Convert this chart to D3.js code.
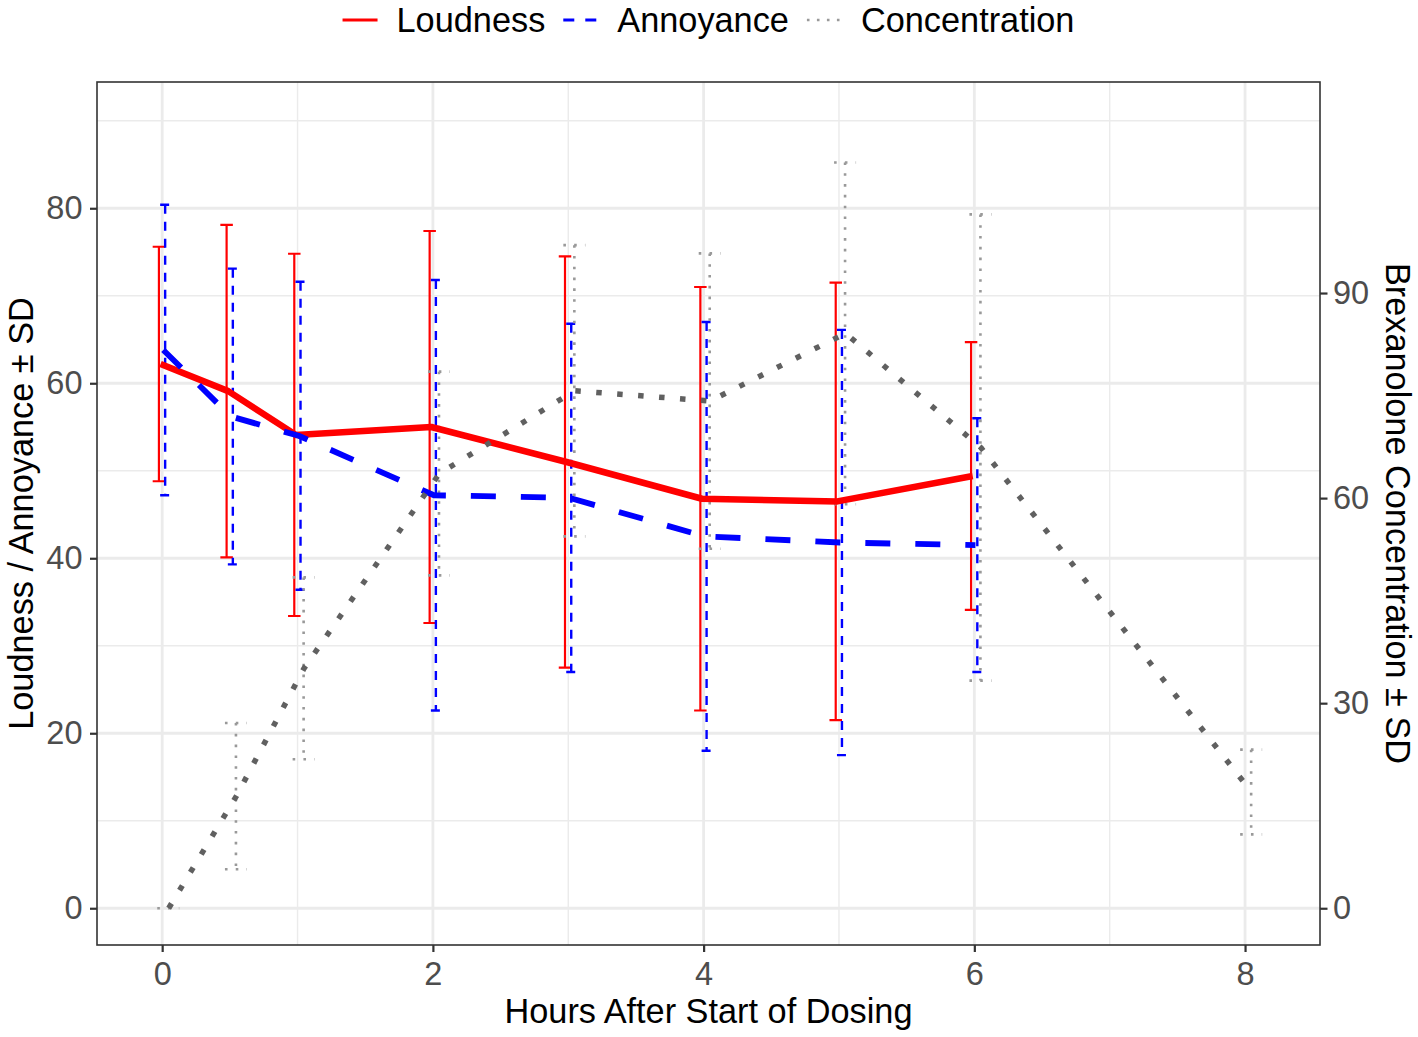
<!DOCTYPE html>
<html>
<head>
<meta charset="utf-8">
<script src="https://cdn.jsdelivr.net/npm/d3@7"></script>
<style>
  body { margin: 0; background: #fff; }
  svg text { font-family: "Liberation Sans", Arial, Helvetica, sans-serif; }
</style>
</head>
<body>
<svg id="chart" width="1418" height="1037"></svg>
<script>
// values (mean and SD per time point)
const hours = [0, 0.5, 1, 2, 3, 4, 5, 6];
const loudnessMean = [62.2, 59.1, 54.1, 55.0, 51.0, 46.8, 46.5, 49.4];
const loudnessSD = [13.4, 19.0, 20.7, 22.4, 23.5, 24.2, 25.0, 15.3];
const annoyanceMean = [63.8, 56.2, 54.0, 47.2, 46.9, 42.5, 41.8, 41.5];
const annoyanceSD = [16.6, 16.9, 17.6, 24.6, 19.9, 24.5, 24.3, 14.5];

const concHours = [0, 0.5, 1, 2, 3, 4, 5, 6, 8];
const concMean = [0, 16.4, 35.1, 63.6, 75.7, 74.2, 84.1, 67.4, 17.0];
const concSD = [0, 10.7, 13.3, 14.9, 21.3, 21.6, 25.0, 34.1, 6.2];
const concFactor = 1.28; // right axis = left axis * 1.28

const xTicks = [0, 2, 4, 6, 8];
const xMinorTicks = [1, 3, 5, 7];
const yTicks = [0, 20, 40, 60, 80];
const yMinorTicks = [10, 30, 50, 70, 90];
const yRightTicks = [0, 30, 60, 90];
const legendLabels = ['Loudness', 'Annoyance', 'Concentration'];

class DosingChart {
    constructor() {
        this.svg = d3.select('#chart');
        this.panel = { left: 97, right: 1320, top: 82, bottom: 945 };
        this.x = d3.scaleLinear().domain([-0.4815, 8.5537]).range([this.panel.left, this.panel.right]);
        this.y = d3.scaleLinear().domain([-4.2, 94.43]).range([this.panel.bottom, this.panel.top]);
        this.yRight = d3.scaleLinear()
            .domain(this.y.domain().map(v => v * concFactor))
            .range([this.panel.bottom, this.panel.top]);

        this.series = [
            {
                name: legendLabels[0], color: '#ff0000', xs: hours, mean: loudnessMean, sd: loudnessSD, k: 1,
                lineWidth: 6.5, dash: null, barWidth: 2.2, barDash: null, cap: 12.5,
                barShift: -0.024, lineShift: -0.012, keyWidth: 3, keyDash: null
            },
            {
                name: legendLabels[1], color: '#0000ff', xs: hours, mean: annoyanceMean, sd: annoyanceSD, k: 1,
                lineWidth: 5.8, dash: '25,25', barWidth: 2.4, barDash: '9,8', cap: 10,
                barShift: 0.022, lineShift: 0.008, keyWidth: 3, keyDash: '11,11'
            },
            {
                name: legendLabels[2], color: '#606060', xs: concHours, mean: concMean, sd: concSD, k: 1 / concFactor,
                lineWidth: 5.5, dash: '5.5,15.5', barWidth: 2.6, barDash: '2.6,8.2', cap: 22,
                barShift: 0.045, lineShift: 0.048, barColor: '#999999', keyWidth: 2.6, keyDash: '2.6,7.4'
            }
        ];
    }

    draw() {
        this.drawGrid();
        this.drawErrorBars();
        this.drawLines();
        this.drawPanelBorder();
        this.drawAxes();
        this.drawTitles();
        this.drawLegend();
    }

    drawGrid() {
        const g = this.svg.append('g');
        const p = this.panel;
        g.selectAll('.vminor').data(xMinorTicks).enter().append('line')
            .attr('x1', d => this.x(d)).attr('x2', d => this.x(d))
            .attr('y1', p.top).attr('y2', p.bottom)
            .attr('stroke', '#ebebeb').attr('stroke-width', 1.4);
        g.selectAll('.hminor').data(yMinorTicks).enter().append('line')
            .attr('y1', d => this.y(d)).attr('y2', d => this.y(d))
            .attr('x1', p.left).attr('x2', p.right)
            .attr('stroke', '#ebebeb').attr('stroke-width', 1.4);
        g.selectAll('.vmajor').data(xTicks).enter().append('line')
            .attr('x1', d => this.x(d)).attr('x2', d => this.x(d))
            .attr('y1', p.top).attr('y2', p.bottom)
            .attr('stroke', '#ebebeb').attr('stroke-width', 2.8);
        g.selectAll('.hmajor').data(yTicks).enter().append('line')
            .attr('y1', d => this.y(d)).attr('y2', d => this.y(d))
            .attr('x1', p.left).attr('x2', p.right)
            .attr('stroke', '#ebebeb').attr('stroke-width', 2.8);
    }

    drawErrorBars() {
        this.series.forEach(s => {
            const rows = s.xs.map((h, i) => ({ h, lo: (s.mean[i] - s.sd[i]) * s.k, hi: (s.mean[i] + s.sd[i]) * s.k }));
            this.svg.append('g').selectAll('path').data(rows).enter().append('path')
                .attr('d', d => {
                    const cx = this.x(d.h + s.barShift);
                    const yt = this.y(d.hi), yb = this.y(d.lo), w = s.cap / 2;
                    return `M${cx - w},${yt}H${cx + w}M${cx},${yt}V${yb}M${cx - w},${yb}H${cx + w}`;
                })
                .attr('fill', 'none')
                .attr('stroke', s.barColor || s.color)
                .attr('stroke-width', s.barWidth)
                .attr('stroke-dasharray', s.barDash);
        });
    }

    drawLines() {
        this.series.forEach(s => {
            const line = d3.line()
                .x((d, i) => this.x(s.xs[i] + s.lineShift))
                .y(d => this.y(d * s.k));
            this.svg.append('path')
                .datum(s.mean)
                .attr('d', line)
                .attr('fill', 'none')
                .attr('stroke', s.color)
                .attr('stroke-width', s.lineWidth)
                .attr('stroke-linejoin', 'round')
                .attr('stroke-dasharray', s.dash);
        });
    }

    drawPanelBorder() {
        const p = this.panel;
        this.svg.append('rect')
            .attr('x', p.left).attr('y', p.top)
            .attr('width', p.right - p.left).attr('height', p.bottom - p.top)
            .attr('fill', 'none').attr('stroke', '#333333').attr('stroke-width', 1.6);
    }

    styleAxis(g) {
        g.select('.domain').remove();
        g.selectAll('.tick line').attr('stroke', '#333333').attr('stroke-width', 2.2);
        g.selectAll('.tick text').attr('fill', '#4d4d4d').attr('font-size', 32.5)
            .attr('font-family', '"Liberation Sans", Arial, sans-serif');
    }

    drawAxes() {
        const p = this.panel;
        this.svg.append('g')
            .attr('transform', `translate(0,${p.bottom})`)
            .call(d3.axisBottom(this.x).tickValues(xTicks).tickSize(7).tickPadding(9.7))
            .call(g => this.styleAxis(g));
        this.svg.append('g')
            .attr('transform', `translate(${p.left},0)`)
            .call(d3.axisLeft(this.y).tickValues(yTicks).tickSize(7).tickPadding(7.5))
            .call(g => this.styleAxis(g));
        this.svg.append('g')
            .attr('transform', `translate(${p.right},0)`)
            .call(d3.axisRight(this.yRight).tickValues(yRightTicks).tickSize(7.5).tickPadding(5.5))
            .call(g => this.styleAxis(g));
    }

    drawTitles() {
        const p = this.panel;
        const midY = (p.top + p.bottom) / 2;
        this.svg.append('text')
            .attr('x', (p.left + p.right) / 2).attr('y', 1023)
            .attr('text-anchor', 'middle').attr('font-size', 34.3).attr('fill', '#000')
            .text('Hours After Start of Dosing');
        this.svg.append('text')
            .attr('transform', `translate(33,${midY}) rotate(-90)`)
            .attr('text-anchor', 'middle').attr('font-size', 34.3).attr('fill', '#000')
            .text('Loudness / Annoyance ± SD');
        this.svg.append('text')
            .attr('transform', `translate(1386,${midY}) rotate(90)`)
            .attr('text-anchor', 'middle').attr('font-size', 34.3).attr('fill', '#000')
            .text('Brexanolone Concentration ± SD');
    }

    drawLegend() {
        const g = this.svg.append('g');
        const keyLen = 35, keyGap = 19, itemGap = 18, cy = 20;
        const items = this.series.map(s => {
            const item = g.append('g');
            item.append('line')
                .attr('x1', 0).attr('x2', keyLen).attr('y1', cy).attr('y2', cy)
                .attr('stroke', s.barColor || s.color)
                .attr('stroke-width', s.keyWidth)
                .attr('stroke-dasharray', s.keyDash);
            const t = item.append('text')
                .attr('x', keyLen + keyGap).attr('y', cy + 12)
                .attr('font-size', 34.3).attr('fill', '#000')
                .text(s.name);
            return { item, w: keyLen + keyGap + t.node().getComputedTextLength() };
        });
        const total = d3.sum(items, d => d.w) + itemGap * (items.length - 1);
        let cursor = (this.panel.left + this.panel.right) / 2 - total / 2;
        items.forEach(d => {
            d.item.attr('transform', `translate(${cursor},0)`);
            cursor += d.w + itemGap;
        });
    }
}

const chart = new DosingChart();
chart.draw();
</script>
</body>
</html>
